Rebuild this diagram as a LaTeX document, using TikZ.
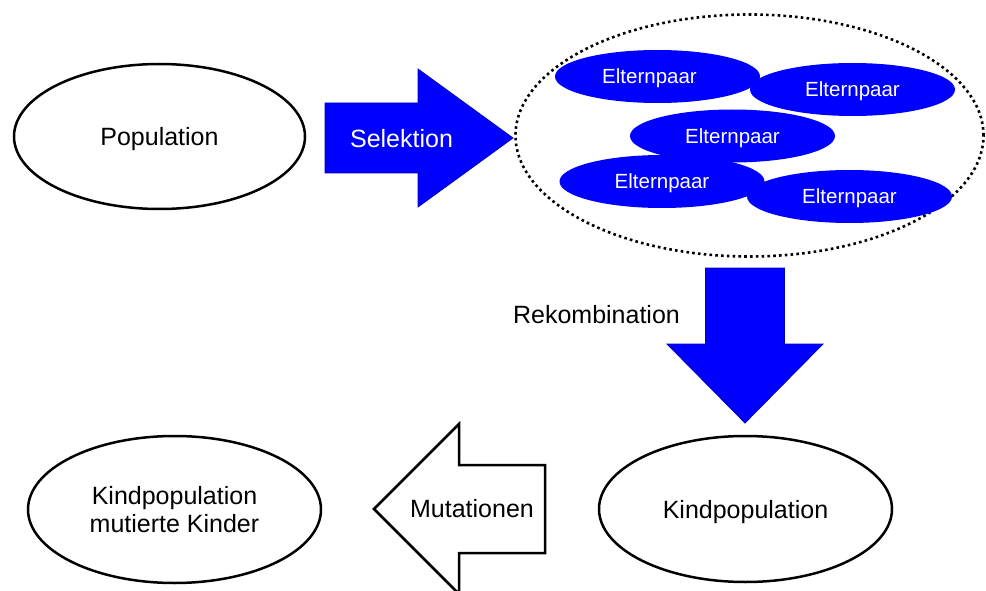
\documentclass[tikz,border=0pt]{standalone}
\usepackage{fontspec}
\setmainfont{Liberation Sans}
\usetikzlibrary{shapes.geometric}
\definecolor{pblue}{RGB}{0,0,255}
\definecolor{pblueedge}{RGB}{0,0,190}
\begin{document}
\begin{tikzpicture}[x=1pt,y=-1pt,
  bigtext/.style={font=\fontsize{25}{27.5}\selectfont, text depth=0pt},
  popnode/.style={ellipse, draw=black, line width=2.5pt, fill=white, inner sep=0pt,
    align=center, bigtext},
  pairnode/.style={ellipse, fill=pblue, text=white, inner sep=0pt, text depth=0pt,
    minimum width=205pt, minimum height=53pt, font=\fontsize{20.5}{24}\selectfont},
  poolnode/.style={ellipse, draw=black, line width=2.6pt, dash pattern=on 2.6pt off 3.2pt,
    inner sep=0pt, minimum width=468pt, minimum height=242pt},
  bluearrow/.style={fill=pblue, draw=pblueedge, line width=0.8pt, line join=miter},
  whitearrow/.style={fill=white, draw=black, line width=2.5pt, line join=miter}]

% canvas
\fill[white] (0,0) rectangle (986,591);
\useasboundingbox (0,0) rectangle (986,591);
\clip (0,0) rectangle (986,591);

% population
\node[popnode, minimum width=291pt, minimum height=145pt] (pop) at (159.5,136.5) {Population};

% selection arrow
\draw[bluearrow] (325,103) -- (418,103) -- (418,69) -- (513,138) -- (418,207)
  -- (418,173) -- (325,173) -- cycle;
\node[bigtext, text=white] (sel) at (401.5,138) {Selektion};

% pool of parent pairs
\node[poolnode] (pool) at (749.5,135.5) {};
\node[pairnode] (p1) at (657.5,76.5) {\hspace*{-16pt}Elternpaar};
\node[pairnode] (p2) at (852.5,89.5) {Elternpaar};
\node[pairnode] (p3) at (732.5,136) {Elternpaar};
\node[pairnode] (p4) at (662,181.5) {Elternpaar};
\node[pairnode] (p5) at (849.5,196.5) {Elternpaar};

% recombination arrow
\draw[bluearrow] (705.5,268) -- (784.5,268) -- (784.5,344) -- (823,344) -- (745,423)
  -- (667,344) -- (705.5,344) -- cycle;
\node[bigtext] (rek) at (596.5,314) {Rekombination};

% offspring
\node[popnode, minimum width=293pt, minimum height=146pt] (kind) at (745.5,509) {Kindpopulation};

% mutation arrow
\draw[whitearrow] (545,465) -- (459,465) -- (459,424) -- (374,509) -- (459,594)
  -- (459,553) -- (545,553) -- cycle;
\node[bigtext] (mut) at (472,508.5) {Mutationen};

% mutated offspring
\node[popnode, minimum width=293pt, minimum height=147pt] (mkind) at (174.5,509.5)
  {Kindpopulation\\mutierte Kinder};
\end{tikzpicture}
\end{document}
